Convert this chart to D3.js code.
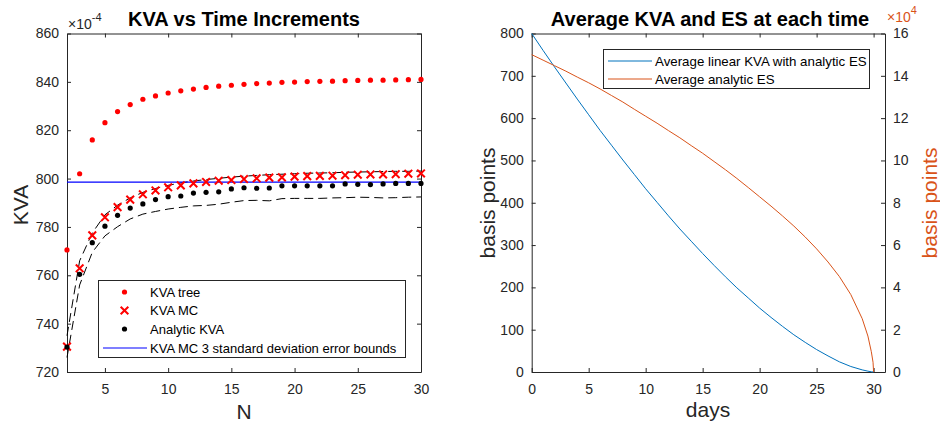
<!DOCTYPE html>
<html>
<head>
<meta charset="utf-8">
<script src="https://cdn.jsdelivr.net/npm/d3@7"></script>
<style>
  body { margin: 0; background: #fff; }
  svg { font-family: "Liberation Sans", Arial, sans-serif; }
  .axis text { font-size: 14px; fill: #262626; }
  .axis path, .axis line { stroke: #262626; }
</style>
</head>
<body>
<svg id="chart" width="940" height="425"></svg>
<script>
// left panel: KVA vs number of time steps N
const nSteps = [2, 3, 4, 5, 6, 7, 8, 9, 10, 11, 12, 13, 14, 15, 16, 17, 18, 19, 20, 21, 22, 23, 24, 25, 26, 27, 28, 29, 30];
const kvaTree = [770.5, 802, 816, 823.1, 827.7, 830.6, 832.8, 834.2, 835.4, 836.3, 837.0, 837.7, 838.2, 838.6, 839.0,
  839.3, 839.5, 839.8, 839.9, 840.1, 840.2, 840.3, 840.5, 840.6, 840.7, 840.7, 840.8, 840.9, 841.0];
const kvaMC = [730.5, 762.9, 776.5, 784, 788.2, 791.3, 793.5, 795.1, 796.4, 797.2, 798.0, 798.6, 799.1, 799.4, 799.8,
  800.1, 800.4, 800.5, 800.8, 801.0, 801.1, 801.2, 801.4, 801.6, 801.7, 801.7, 801.8, 802.0, 802.1];
const kvaAnalytic = [730.3, 760.4, 773.5, 780.3, 784.8, 787.8, 789.5, 791.3, 792.5, 792.8, 794.0, 794.3, 794.5, 795.7, 796.2,
  796.0, 796.1, 797.0, 797.0, 797.0, 797.0, 797.0, 797.8, 797.6, 797.5, 797.8, 798.0, 798.0, 798.0];
const mcUpper = [735, 766, 777.5, 785, 789, 792, 794.3, 795.9, 797.2, 798.2, 799, 799.6, 800.1, 800.6, 801,
  801.3, 801.6, 801.8, 802, 802.2, 802.3, 802.4, 802.6, 802.7, 802.8, 802.9, 803, 803, 803.1];
const mcLower = [726, 756, 769.5, 776.3, 780.1, 783.3, 785.3, 786.4, 787.4, 788.1, 788.7, 788.9, 789.4, 790.2, 790.9,
  791.0, 790.8, 791.7, 791.8, 791.8, 791.8, 792, 792.1, 792.3, 792.2, 792.0, 792.1, 792.3, 792.4];
const mcLevel = 798.5;
const leftXTicks = [5, 10, 15, 20, 25, 30];
const leftYTicks = [720, 740, 760, 780, 800, 820, 840, 860];
const leftLegend = ['KVA tree', 'KVA MC', 'Analytic KVA', 'KVA MC 3 standard deviation error bounds'];

// right panel: average KVA and ES over the 30 days
const days = [0, 1, 2, 3, 4, 5, 6, 7, 8, 9, 10, 11, 12, 13, 14, 15, 16, 17, 18, 19, 20, 21, 22, 23, 24, 25, 26, 27, 28, 29, 29.5, 29.8, 29.95, 30];
const avgKVA = [800, 760, 721, 683, 645, 608, 571, 536, 501, 467, 433, 401, 369, 338, 309, 280, 252, 225, 199, 175,
  151, 129, 108, 88, 70, 53, 38, 24, 13, 5, 2, 0.5, 0.1, 0];
const avgES = [150000, 147400, 144800, 142200, 139400, 136700, 133800, 130700, 127600, 124200, 120900, 117600, 114100,
  110700, 107000, 103400, 99500, 95600, 91500, 87200, 82800, 78400, 73800, 69000, 63800, 58200, 52000, 45100, 36600,
  25200, 17000, 9600, 4600, 0];
const rightXTicks = [0, 5, 10, 15, 20, 25, 30];
const rightYTicks = [0, 100, 200, 300, 400, 500, 600, 700, 800];
const esTicks = [0, 20000, 40000, 60000, 80000, 100000, 120000, 140000, 160000];
const rightLegend = ['Average linear KVA with analytic ES', 'Average analytic ES'];

const ink = '#262626';
const blue = '#0072BD';
const orange = '#D95319';
const plotTop = 33.5, plotBottom = 372;

const svg = d3.select('#chart');

// ---------- left panel ----------
const L = { x0: 67, x1: 421 };
const xL = d3.scaleLinear().domain([2, 30]).range([L.x0, L.x1]);
const yL = d3.scaleLinear().domain([720, 860]).range([plotBottom, plotTop]);

const gl = svg.append('g');
gl.append('g').attr('class', 'axis')
  .attr('transform', `translate(0,${plotBottom})`)
  .call(d3.axisBottom(xL).tickValues(leftXTicks).tickSize(-4).tickPadding(12).tickSizeOuter(0));
gl.append('g').attr('class', 'axis')
  .attr('transform', `translate(0,${plotTop})`)
  .call(d3.axisTop(xL).tickValues(leftXTicks).tickSize(-4).tickFormat('').tickSizeOuter(0));
gl.append('g').attr('class', 'axis')
  .attr('transform', `translate(${L.x0},0)`)
  .call(d3.axisLeft(yL).tickValues(leftYTicks).tickSize(-4).tickPadding(8).tickSizeOuter(0));
gl.append('g').attr('class', 'axis')
  .attr('transform', `translate(${L.x1},0)`)
  .call(d3.axisRight(yL).tickValues(leftYTicks).tickSize(-4).tickFormat('').tickSizeOuter(0));

const lineL = vals => d3.line().x((d, i) => xL(nSteps[i])).y(d => yL(d))(vals);
gl.append('path').attr('d', lineL(mcUpper)).attr('fill', 'none').attr('stroke', '#000')
  .attr('stroke-width', 1).attr('stroke-dasharray', '9,5');
gl.append('path').attr('d', lineL(mcLower)).attr('fill', 'none').attr('stroke', '#000')
  .attr('stroke-width', 1).attr('stroke-dasharray', '9,5');
gl.append('line').attr('x1', xL(2)).attr('x2', xL(30)).attr('y1', yL(mcLevel)).attr('y2', yL(mcLevel))
  .attr('stroke', '#0000ff').attr('stroke-width', 1.2);

gl.selectAll('circle.tree').data(kvaTree).enter().append('circle').attr('class', 'tree')
  .attr('cx', (d, i) => xL(nSteps[i])).attr('cy', d => yL(d)).attr('r', 2.6).attr('fill', '#ff0000');
const cross = d3.symbol().type(d3.symbolX).size(40);
gl.selectAll('path.mc').data(kvaMC).enter().append('path').attr('class', 'mc')
  .attr('d', cross).attr('transform', (d, i) => `translate(${xL(nSteps[i])},${yL(d)})`)
  .attr('fill', 'none').attr('stroke', '#ff0000').attr('stroke-width', 2);
gl.selectAll('circle.an').data(kvaAnalytic).enter().append('circle').attr('class', 'an')
  .attr('cx', (d, i) => xL(nSteps[i])).attr('cy', d => yL(d)).attr('r', 2.6).attr('fill', '#000');

// left legend
const lg = gl.append('g');
lg.append('rect').attr('x', 98.5).attr('y', 280.5).attr('width', 307).attr('height', 77)
  .attr('fill', '#fff').attr('stroke', ink).attr('stroke-width', 1);
const rowY = [292, 310.5, 329, 348];
leftLegend.forEach((t, i) => {
  lg.append('text').attr('x', 150).attr('y', rowY[i]).attr('dy', '0.35em')
    .attr('font-size', 13).attr('fill', '#000').text(t);
});
lg.append('circle').attr('cx', 124.5).attr('cy', rowY[0]).attr('r', 2.6).attr('fill', '#ff0000');
lg.append('path').attr('d', cross).attr('transform', `translate(124.5,${rowY[1]})`)
  .attr('fill', 'none').attr('stroke', '#ff0000').attr('stroke-width', 2);
lg.append('circle').attr('cx', 124.5).attr('cy', rowY[2]).attr('r', 2.6).attr('fill', '#000');
lg.append('line').attr('x1', 103).attr('x2', 147).attr('y1', rowY[3]).attr('y2', rowY[3])
  .attr('stroke', '#0000ff').attr('stroke-width', 1.2);

// left texts
gl.append('text').attr('x', 244).attr('y', 26).attr('text-anchor', 'middle')
  .attr('font-size', 20).attr('font-weight', 'bold').attr('fill', '#000').text('KVA vs Time Increments');
const expL = gl.append('text').attr('x', 68).attr('y', 29).attr('font-size', 14).attr('fill', ink);
expL.append('tspan').text('\u00d710');
expL.append('tspan').attr('dy', -8).attr('font-size', 11).text('-4');
gl.append('text').attr('transform', 'translate(28,205) rotate(-90)').attr('text-anchor', 'middle')
  .attr('font-size', 21).attr('fill', ink).text('KVA');
gl.append('text').attr('x', 244).attr('y', 419).attr('text-anchor', 'middle')
  .attr('font-size', 21).attr('fill', ink).text('N');

// ---------- right panel ----------
const R = { x0: 531.7, x1: 885 };
const xR = d3.scaleLinear().domain([0, 31]).range([R.x0, R.x1]);
const yR = d3.scaleLinear().domain([0, 800]).range([plotBottom, plotTop]);
const yES = d3.scaleLinear().domain([0, 160000]).range([plotBottom, plotTop]);

const gr = svg.append('g');
gr.append('g').attr('class', 'axis')
  .attr('transform', `translate(0,${plotBottom})`)
  .call(d3.axisBottom(xR).tickValues(rightXTicks).tickSize(-4).tickPadding(12).tickSizeOuter(0));
gr.append('g').attr('class', 'axis')
  .attr('transform', `translate(0,${plotTop})`)
  .call(d3.axisTop(xR).tickValues(rightXTicks).tickSize(-4).tickFormat('').tickSizeOuter(0));
gr.append('g').attr('class', 'axis')
  .attr('transform', `translate(${R.x0},0)`)
  .call(d3.axisLeft(yR).tickValues(rightYTicks).tickSize(-4).tickPadding(8).tickSizeOuter(0));
const esAxis = gr.append('g').attr('class', 'axis es')
  .attr('transform', `translate(${R.x1},0)`)
  .call(d3.axisRight(yES).tickValues(esTicks).tickSize(-4).tickPadding(8).tickSizeOuter(0)
    .tickFormat(d => d / 10000));
esAxis.selectAll('path, line').attr('stroke', orange);
esAxis.selectAll('text').attr('fill', orange);

gr.append('path').datum(avgKVA)
  .attr('d', d3.line().x((d, i) => xR(days[i])).y(d => yR(d)))
  .attr('fill', 'none').attr('stroke', blue).attr('stroke-width', 1);
gr.append('path').datum(avgES)
  .attr('d', d3.line().x((d, i) => xR(days[i])).y(d => yES(d)))
  .attr('fill', 'none').attr('stroke', orange).attr('stroke-width', 1);

// right legend
const rg = gr.append('g');
rg.append('rect').attr('x', 603.5).attr('y', 49.5).attr('width', 266).attr('height', 39)
  .attr('fill', '#fff').attr('stroke', ink).attr('stroke-width', 1);
[blue, orange].forEach((c, i) => {
  const y = 61 + i * 18;
  rg.append('line').attr('x1', 608).attr('x2', 652).attr('y1', y).attr('y2', y)
    .attr('stroke', c).attr('stroke-width', 1);
  rg.append('text').attr('x', 655).attr('y', y).attr('dy', '0.35em')
    .attr('font-size', 13.3).attr('fill', '#000').text(rightLegend[i]);
});

// right texts
gr.append('text').attr('x', 710).attr('y', 26).attr('text-anchor', 'middle')
  .attr('font-size', 20).attr('font-weight', 'bold').attr('fill', '#000').text('Average KVA and ES at each time');
const expR = gr.append('text').attr('x', 887).attr('y', 22).attr('font-size', 14).attr('fill', orange);
expR.append('tspan').text('\u00d710');
expR.append('tspan').attr('dy', -8).attr('font-size', 11).text('4');
gr.append('text').attr('transform', 'translate(495,203) rotate(-90)').attr('text-anchor', 'middle')
  .attr('font-size', 21).attr('fill', ink).text('basis points');
gr.append('text').attr('transform', 'translate(937,203) rotate(-90)').attr('text-anchor', 'middle')
  .attr('font-size', 21).attr('fill', orange).text('basis points');
gr.append('text').attr('x', 708).attr('y', 417).attr('text-anchor', 'middle')
  .attr('font-size', 21).attr('fill', ink).text('days');
</script>
</body>
</html>
